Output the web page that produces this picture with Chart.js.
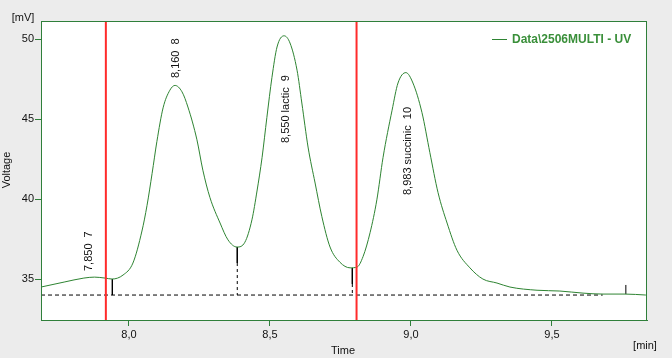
<!DOCTYPE html>
<html>
<head>
<meta charset="utf-8">
<script src="https://cdn.jsdelivr.net/npm/chart.js@4/dist/chart.umd.min.js"></script>
<style>
html,body{margin:0;padding:0;background:#ececec;overflow:hidden}
</style>
</head>
<body>
<canvas id="chrom" width="672" height="358"></canvas>
<script>
// chromatogram trace (time in min, voltage in mV)
const timeMin = [7.688,7.770,7.840,7.878,7.915,7.940,7.979,8.014,8.046,8.064,8.082,8.099,8.121,8.145,8.163,8.188,8.209,8.241,8.262,8.287,8.323,8.351,8.383,8.411,8.436,8.454,8.472,8.489,8.507,8.525,8.550,8.571,8.596,8.613,8.635,8.660,8.684,8.713,8.748,8.784,8.809,8.830,8.855,8.879,8.901,8.933,8.954,8.982,9.007,9.039,9.067,9.096,9.128,9.163,9.209,9.255,9.305,9.351,9.447,9.528,9.610,9.681,9.759,9.833];
const voltage = [34.50,34.81,35.06,35.12,35.06,35.00,35.25,36.00,38.00,39.60,41.60,43.60,45.70,46.80,47.10,46.70,45.75,43.70,41.80,40.10,38.50,37.45,37.00,37.30,38.70,40.50,42.60,45.10,47.60,49.50,50.20,49.75,48.05,46.00,43.25,41.00,38.90,37.00,36.05,35.70,35.75,36.40,37.90,39.95,42.60,45.55,47.25,47.90,47.25,45.40,42.90,40.40,38.50,36.80,35.70,35.00,34.75,34.50,34.30,34.25,34.12,34.06,34.06,34.00];

const peakTime = [7.858, 8.167, 8.557, 8.989];
const peakLabelV = [35.5, 47.56, 43.5, 40.25];
const peakNames = ['7,850  7', '8,160  8', '8,550 lactic  9', '8,983 succinic  10'];

const cutTime = [7.918, 8.807];        // red integration limits
const baseV = 34.0;                    // baseline
const baseEnd = 9.68;
const dropTime = [7.941, 8.384, 8.792];
const dropV = [35.0, 37.0, 35.69];
const endMarkT = 9.762;
const endMarkV = [34.06, 34.63];

const xTicks = [8.0, 8.5, 9.0, 9.5];
const yTicks = [35, 40, 45, 50];
const xMin = 7.688, xMax = 9.837, yMin = 32.44, yMax = 51.125;

const GREEN = '#2f7f3a';
const FONT = 'Liberation Sans, Arial, sans-serif';

const datasets = [];
datasets.push({
    data: timeMin.map((t, i) => ({x: t, y: voltage[i]})),
    borderColor: '#2e8432', borderWidth: 1, pointRadius: 0,
    cubicInterpolationMode: 'monotone', order: 1
});
cutTime.forEach(t => datasets.push({
    data: [{x: t, y: yMin}, {x: t, y: yMax - 0.06}],
    borderColor: '#ff2b2b', borderWidth: 2, pointRadius: 0, order: 0
}));
datasets.push({
    data: [{x: xMin, y: baseV}, {x: baseEnd, y: baseV}],
    borderColor: '#000', borderWidth: 1, borderDash: [4, 3], pointRadius: 0, order: 2
});
dropTime.forEach((t, i) => {
    const mid = Math.max(baseV, dropV[i] - 1);
    datasets.push({
        data: [{x: t, y: dropV[i]}, {x: t, y: mid}],
        borderColor: '#000', borderWidth: 1, pointRadius: 0, order: 2
    });
    if (mid > baseV) datasets.push({
        data: [{x: t, y: mid}, {x: t, y: baseV}],
        borderColor: '#000', borderWidth: 1, borderDash: [3, 3], pointRadius: 0, order: 2
    });
});
datasets.push({
    data: [{x: endMarkT, y: endMarkV[0]}, {x: endMarkT, y: endMarkV[1]}],
    borderColor: '#000', borderWidth: 1, pointRadius: 0, order: 2
});

const frame = {
    id: 'frame',
    beforeDraw(chart) {
        const {ctx, chartArea: a} = chart;
        ctx.save();
        ctx.fillStyle = '#ececec';
        ctx.fillRect(0, 0, chart.width, chart.height);
        ctx.fillStyle = '#fff';
        ctx.fillRect(a.left, a.top, a.right - a.left, a.bottom - a.top);
        ctx.restore();
    },
    afterDatasetsDraw(chart) {
        const {ctx, chartArea: a, scales: {x, y}} = chart;
        ctx.save();
        // peak labels, rotated
        ctx.fillStyle = '#111';
        ctx.font = '11px ' + FONT;
        ctx.textAlign = 'left';
        ctx.textBaseline = 'middle';
        peakNames.forEach((s, i) => {
            ctx.save();
            ctx.translate(x.getPixelForValue(peakTime[i]), y.getPixelForValue(peakLabelV[i]));
            ctx.rotate(-Math.PI / 2);
            ctx.fillText(s, 0, 0);
            ctx.restore();
        });
        // legend
        ctx.strokeStyle = '#2e8432';
        ctx.lineWidth = 1;
        ctx.beginPath();
        ctx.moveTo(a.right - 155, a.top + 18.5);
        ctx.lineTo(a.right - 140, a.top + 18.5);
        ctx.stroke();
        ctx.fillStyle = '#3a8f3a';
        ctx.font = 'bold 12px ' + FONT;
        ctx.fillText('Data\\2506MULTI - UV', a.right - 135, a.top + 19);
        // frame
        ctx.strokeStyle = GREEN;
        ctx.strokeRect(a.left + 0.5, a.top + 0.5, a.right - a.left - 1, a.bottom - a.top);
        // axis titles
        ctx.fillStyle = '#111';
        ctx.font = '11px ' + FONT;
        ctx.textAlign = 'center';
        ctx.fillText('[mV]', 23, 18);
        ctx.fillText('Time', 343, 351);
        ctx.fillText('[min]', 645, 346);
        ctx.save();
        ctx.translate(7, 170);
        ctx.rotate(-Math.PI / 2);
        ctx.fillText('Voltage', 0, 0);
        ctx.restore();
        ctx.restore();
    }
};

new Chart(document.getElementById('chrom'), {
    type: 'line',
    data: {datasets},
    options: {
        responsive: false,
        animation: false,
        layout: {padding: {top: 21, right: 25, left: 0, bottom: 0}},
        plugins: {legend: {display: false}, tooltip: {enabled: false}},
        scales: {
            x: {
                type: 'linear', min: xMin, max: xMax,
                afterFit(s) { s.height = 38; },
                afterBuildTicks(s) { s.ticks = xTicks.map(v => ({value: v})); },
                grid: {drawOnChartArea: false, color: GREEN, tickLength: 6},
                border: {color: GREEN},
                ticks: {color: '#111', font: {family: FONT, size: 11}, padding: 2, maxRotation: 0,
                    callback: v => v.toFixed(1).replace('.', ',')}
            },
            y: {
                type: 'linear', min: yMin, max: yMax,
                afterFit(s) { s.width = 41; },
                afterBuildTicks(s) { s.ticks = yTicks.map(v => ({value: v})); },
                grid: {drawOnChartArea: false, color: GREEN, tickLength: 6},
                border: {color: GREEN},
                ticks: {color: '#111', font: {family: FONT, size: 11}, padding: 1}
            }
        }
    },
    plugins: [frame]
});
</script>
</body>
</html>
